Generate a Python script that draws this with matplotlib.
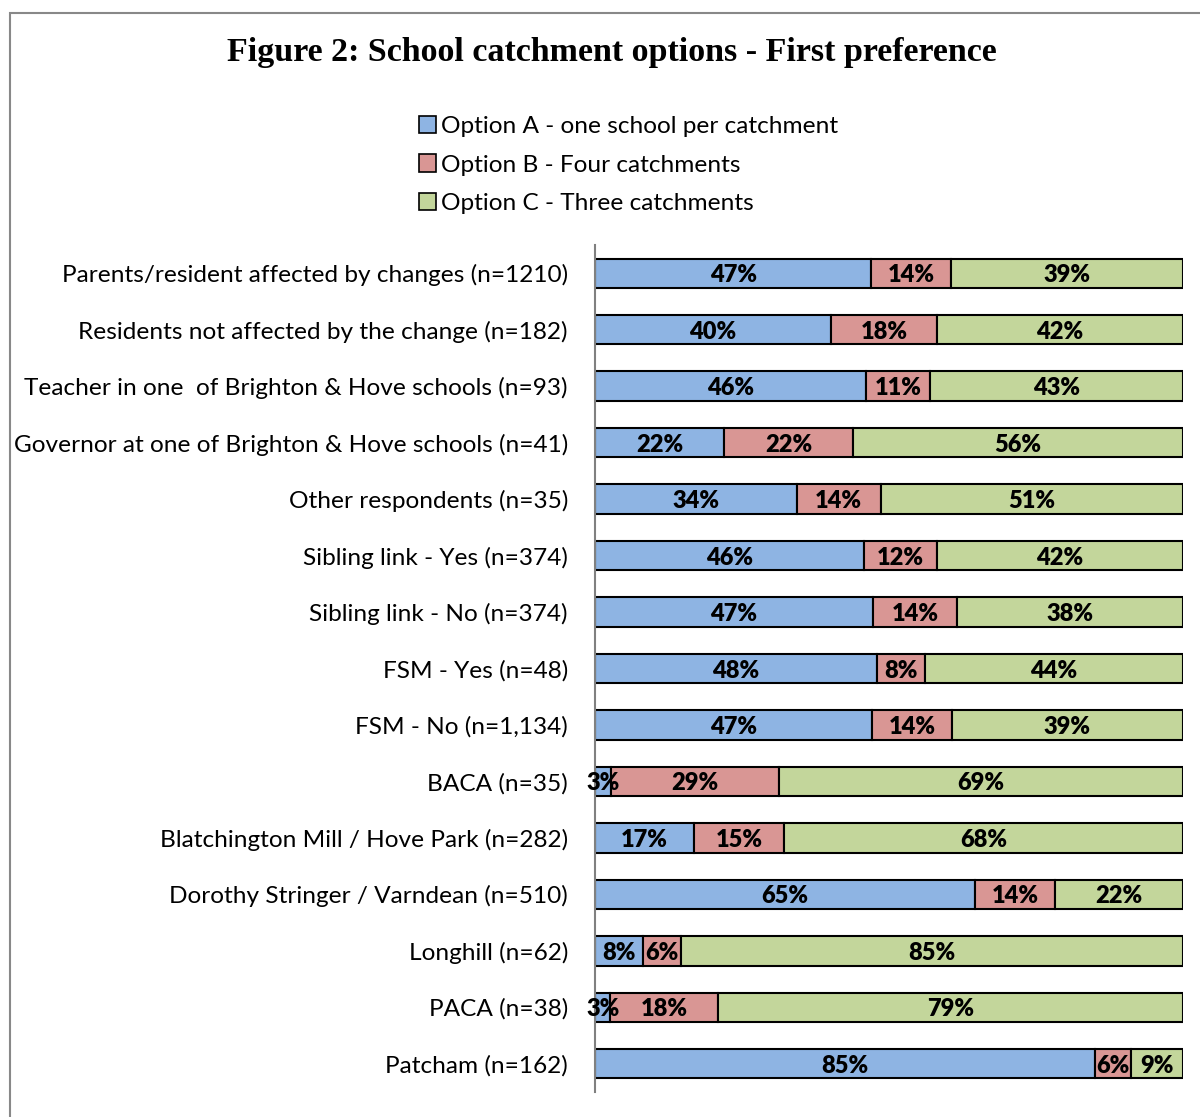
# stacked bar chart - school catchment options, first preference
import numpy as np
import matplotlib.pyplot as plt
from matplotlib.patches import Patch, Rectangle

categories = ['Parents/resident affected by changes (n=1210)',
              'Residents not affected by the change (n=182)',
              'Teacher in one  of Brighton & Hove schools (n=93)',
              'Governor at one of Brighton & Hove schools (n=41)',
              'Other respondents (n=35)',
              'Sibling link - Yes (n=374)',
              'Sibling link - No (n=374)',
              'FSM - Yes (n=48)',
              'FSM - No (n=1,134)',
              'BACA (n=35)',
              'Blatchington Mill / Hove Park (n=282)',
              'Dorothy Stringer / Varndean (n=510)',
              'Longhill (n=62)',
              'PACA (n=38)',
              'Patcham (n=162)']
# percentages
option_a = [47.0, 40.1, 46.1, 21.9, 34.3, 45.7, 47.2, 47.9, 47.1, 2.7, 16.9, 64.6, 8.2, 2.6, 85.0]
option_b = [13.6, 18.1, 10.9, 22.0, 14.3, 12.4, 14.4, 8.2, 13.6, 28.6, 15.3, 13.7, 6.4, 18.3, 6.1]
option_c = [39.4, 41.8, 43.0, 56.1, 51.4, 41.9, 38.4, 43.9, 39.3, 68.7, 67.8, 21.7, 85.4, 79.1, 8.9]
series_names = ['Option A - one school per catchment',
                'Option B - Four catchments',
                'Option C - Three catchments']
colors = ['#8EB4E3', '#D99694', '#C3D69B']

plt.rcParams['font.family'] = ['Lato', 'DejaVu Sans']

fig = plt.figure(figsize=(12, 11.17), dpi=100)
ax = fig.add_axes([595/1200, 1 - 1092/1117, 588/1200, 847/1117])

y = np.arange(len(categories))
left = np.zeros(len(categories))
for vals, col in zip([option_a, option_b, option_c], colors):
    vals = np.array(vals)
    ax.barh(y, vals, left=left, height=0.52, color=col,
            edgecolor='black', linewidth=1.5)
    for yi, l, v in zip(y, left, vals):
        ax.text(l + v / 2, yi, f'{v:.0f}%', ha='center', va='center_baseline',
                fontsize=17, fontweight='heavy', color='black')
    left += vals

ax.set_xlim(0, 100)
ax.set_ylim(len(categories) - 0.5, -0.5)
ax.set_yticks(y)
ax.set_yticklabels(categories, fontsize=17.6)
ax.tick_params(axis='y', length=0, pad=19.5)
ax.set_xticks([])
for s in ['top', 'right', 'bottom']:
    ax.spines[s].set_visible(False)
ax.spines['left'].set_color('#808080')
ax.spines['left'].set_linewidth(1.5)

# title
fig.text(612/1200, 1 - 52/1117, 'Figure 2: School catchment options - First preference',
         ha='center', va='center', fontsize=24.5, fontweight='bold',
         family=['Liberation Serif', 'DejaVu Serif'])

# legend
handles = [Patch(facecolor=c, edgecolor='black', linewidth=1.2) for c in colors]
fig.legend(handles, series_names, loc='upper left',
           bbox_to_anchor=(409/1200, 1 - 106/1117), frameon=False,
           fontsize=17.6, handlelength=0.7, handleheight=0.7,
           handletextpad=0.2, labelspacing=0.72, borderaxespad=0)

# outer border
fig.patches.append(Rectangle((10/1200, -0.1), 1.2, 1 - 13/1117 + 0.1,
                             transform=fig.transFigure, fill=False,
                             edgecolor='#888888', linewidth=1.5))

plt.savefig('out.png', dpi=100)
